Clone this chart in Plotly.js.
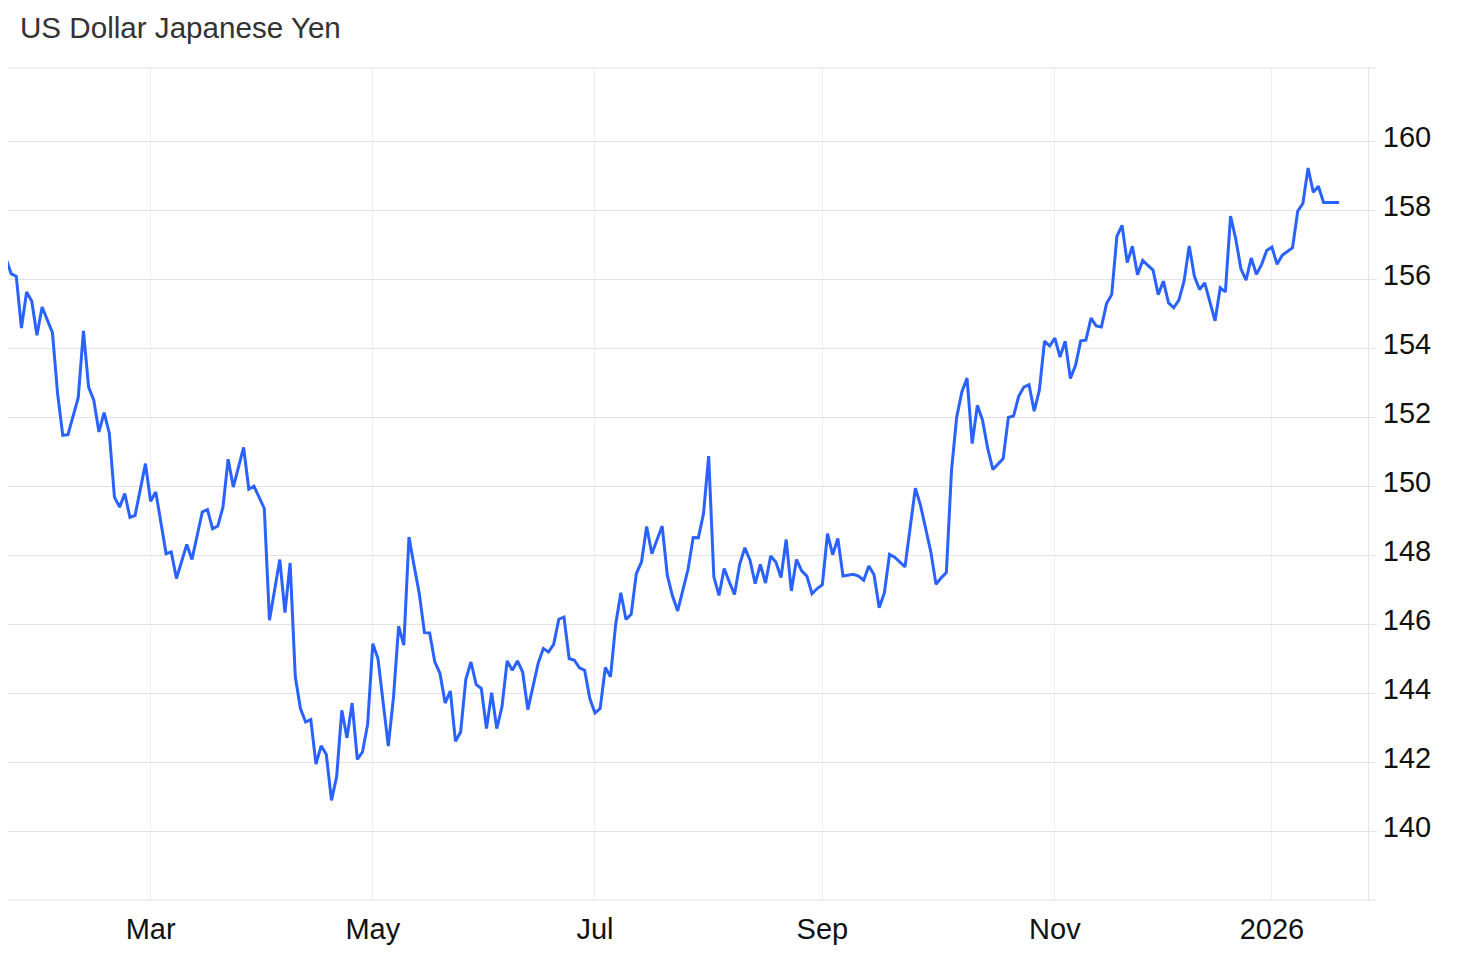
<!DOCTYPE html>
<html>
<head>
<meta charset="utf-8">
<script src="https://cdn.plot.ly/plotly-3.0.1.min.js"></script>
<style>html,body{margin:0;padding:0;background:#fff;}</style>
</head>
<body>
<div id="chart" style="width:1473px;height:975px;"></div>
<script>
// Daily closes (trading days)
const dates = [
'2025-01-22','2025-01-23','2025-01-24','2025-01-27','2025-01-28','2025-01-29','2025-01-30','2025-01-31',
'2025-02-04','2025-02-05','2025-02-06','2025-02-07','2025-02-10','2025-02-11','2025-02-12','2025-02-13',
'2025-02-14','2025-02-17','2025-02-18','2025-02-19','2025-02-20','2025-02-21','2025-02-24','2025-02-25',
'2025-02-26','2025-02-28','2025-03-03','2025-03-04','2025-03-06','2025-03-07','2025-03-10','2025-03-12',
'2025-03-13','2025-03-17','2025-03-18','2025-03-19','2025-03-20','2025-03-21','2025-03-24','2025-03-25',
'2025-03-27','2025-03-28','2025-03-31','2025-04-01','2025-04-02','2025-04-03','2025-04-07','2025-04-08',
'2025-04-09','2025-04-10','2025-04-11','2025-04-14','2025-04-15','2025-04-16','2025-04-17','2025-04-18',
'2025-04-21','2025-04-22','2025-04-23','2025-04-24','2025-04-25','2025-04-28','2025-04-29','2025-04-30',
'2025-05-01','2025-05-02','2025-05-06','2025-05-07','2025-05-08','2025-05-09','2025-05-12','2025-05-13',
'2025-05-14','2025-05-15','2025-05-16','2025-05-19','2025-05-20','2025-05-21','2025-05-22','2025-05-23',
'2025-05-26','2025-05-27','2025-05-28','2025-05-29','2025-05-30','2025-06-02','2025-06-03','2025-06-04',
'2025-06-05','2025-06-06','2025-06-09','2025-06-10','2025-06-11','2025-06-12','2025-06-16','2025-06-17',
'2025-06-18','2025-06-19','2025-06-20','2025-06-23','2025-06-24','2025-06-25','2025-06-26','2025-06-27',
'2025-06-30','2025-07-01','2025-07-02','2025-07-03','2025-07-04','2025-07-07','2025-07-08','2025-07-09',
'2025-07-10','2025-07-11','2025-07-14','2025-07-15','2025-07-16','2025-07-18','2025-07-21','2025-07-22',
'2025-07-23','2025-07-25','2025-07-28','2025-07-29','2025-07-30','2025-07-31','2025-08-01','2025-08-04',
'2025-08-05','2025-08-06','2025-08-07','2025-08-08','2025-08-11','2025-08-12','2025-08-13','2025-08-14',
'2025-08-15','2025-08-18','2025-08-19','2025-08-20','2025-08-21','2025-08-22','2025-08-25','2025-08-26',
'2025-08-27','2025-08-28','2025-08-29','2025-09-01','2025-09-02','2025-09-03','2025-09-04','2025-09-05',
'2025-09-09','2025-09-10','2025-09-11','2025-09-12','2025-09-15','2025-09-16','2025-09-17','2025-09-18',
'2025-09-19','2025-09-23','2025-09-25','2025-09-26','2025-09-29','2025-09-30','2025-10-01','2025-10-02',
'2025-10-03','2025-10-06','2025-10-07','2025-10-08','2025-10-09','2025-10-10','2025-10-13','2025-10-14',
'2025-10-15','2025-10-16','2025-10-20','2025-10-21','2025-10-22','2025-10-23','2025-10-24','2025-10-27',
'2025-10-28','2025-10-29','2025-10-30','2025-10-31','2025-11-03','2025-11-04','2025-11-05','2025-11-06',
'2025-11-07','2025-11-10','2025-11-11','2025-11-12','2025-11-13','2025-11-14','2025-11-17','2025-11-18',
'2025-11-19','2025-11-20','2025-11-21','2025-11-24','2025-11-25','2025-11-26','2025-11-27','2025-11-28',
'2025-12-01','2025-12-02','2025-12-03','2025-12-04','2025-12-05','2025-12-08','2025-12-09','2025-12-10',
'2025-12-11','2025-12-12','2025-12-15','2025-12-16','2025-12-17','2025-12-18','2025-12-19','2025-12-22',
'2025-12-23','2025-12-24','2025-12-26','2025-12-29','2025-12-30','2025-12-31','2026-01-02','2026-01-05',
'2026-01-06','2026-01-07','2026-01-08','2026-01-09','2026-01-12','2026-01-13','2026-01-14','2026-01-15',
'2026-01-16','2026-01-19','2026-01-20','2026-01-21'
];
const usdjpy = [
156.60,156.16,156.08,154.58,155.63,155.36,154.37,155.19,
154.45,152.68,151.47,151.49,152.03,152.57,154.50,152.87,
152.49,151.57,152.13,151.54,149.68,149.39,149.78,149.09,
149.15,150.65,149.56,149.83,148.04,148.09,147.32,148.31,
147.87,149.25,149.32,148.76,148.84,149.39,150.78,149.97,
151.12,149.91,150.00,149.68,149.35,146.11,147.87,146.33,
147.77,144.47,143.55,143.16,143.23,141.94,142.47,142.22,
140.89,141.57,143.50,142.70,143.71,142.08,142.29,143.09,
145.43,145.00,142.46,143.87,145.94,145.39,148.52,147.68,
146.88,145.75,145.74,144.90,144.57,143.71,144.06,142.60,
142.87,144.40,144.90,144.25,144.13,142.97,144.01,142.97,
143.60,144.93,144.66,144.93,144.61,143.52,144.86,145.29,
145.19,145.41,146.14,146.20,145.00,144.95,144.73,144.66,
143.84,143.42,143.55,144.74,144.47,145.99,146.91,146.13,
146.28,147.46,147.80,148.83,148.04,148.84,147.41,146.81,
146.38,147.58,148.51,148.50,149.20,150.87,147.37,146.83,
147.61,147.22,146.86,147.73,148.21,147.85,147.17,147.73,
147.19,147.97,147.80,147.35,148.45,146.96,147.87,147.54,
147.39,146.88,147.03,147.14,148.62,148.01,148.48,147.39,
147.44,147.39,147.27,147.68,147.43,146.47,146.90,148.02,
147.94,147.66,149.94,149.44,148.72,148.09,147.15,147.34,
147.49,150.46,152.00,152.73,153.13,151.23,152.34,151.91,
151.09,150.48,150.80,151.99,152.03,152.60,152.87,152.94,
152.17,152.78,154.20,154.06,154.29,153.74,154.20,153.12,
153.50,154.21,154.23,154.87,154.64,154.61,155.29,155.55,
157.24,157.56,156.48,156.95,156.13,156.54,156.40,156.26,
155.55,155.94,155.31,155.17,155.39,155.94,156.96,156.08,
155.70,155.89,155.34,154.79,155.75,155.63,157.83,157.17,
156.30,155.97,156.61,156.14,156.42,156.83,156.93,156.43,
156.69,156.81,156.91,157.97,158.19,159.22,158.52,158.69,
158.22,158.22,158.23,158.22
];
const monthTickDates = ['2025-03-03','2025-05-01','2025-07-01','2025-09-01','2025-11-03','2026-01-02'];
const monthTickLabels = ['Mar','May','Jul','Sep','Nov','2026'];
const priceTicks = [140,142,144,146,148,150,152,154,156,158,160];
const marketHolidays = ['2025-12-25','2026-01-01'];
const chartTitle = 'US Dollar Japanese Yen';

const FONT = '"Liberation Sans", Arial, Helvetica, sans-serif';
const GRID_H = '#e3e3e3';
const GRID_V = '#ebeef3';
const plotW = 1473 - 8 - 105;
const tickExt = 8 / plotW;

const trace = {
  type: 'scatter', mode: 'lines',
  x: dates, y: usdjpy,
  line: {color: '#2962ff', width: 3},
  hoverinfo: 'x+y'
};

const layout = {
  width: 1473, height: 975,
  margin: {l: 8, r: 105, t: 68, b: 75, pad: 0},
  paper_bgcolor: '#ffffff', plot_bgcolor: '#ffffff',
  showlegend: false,
  font: {family: FONT, color: '#111'},
  title: {
    text: chartTitle,
    font: {family: FONT, size: 29.6, color: '#333333'},
    xref: 'container', yref: 'container',
    x: 20 / 1473, xanchor: 'left',
    y: 1 - 28 / 975, yanchor: 'middle'
  },
  xaxis: {
    type: 'date',
    range: ['2025-01-22 09:36', '2026-01-28 14:24'],
    rangebreaks: [{bounds: ['sat', 'mon']}, {values: marketHolidays}],
    tickmode: 'array', tickvals: monthTickDates, ticktext: monthTickLabels,
    showgrid: true, gridcolor: GRID_V, gridwidth: 1,
    ticks: '', showline: false, zeroline: false,
    ticklabelstandoff: 9,
    tickfont: {family: FONT, size: 29, color: '#111'},
    fixedrange: true
  },
  yaxis: {
    side: 'right',
    range: [138, 162.12],
    tickmode: 'array', tickvals: priceTicks,
    showgrid: true, gridcolor: GRID_H, gridwidth: 1,
    ticks: 'outside', ticklen: 8, tickcolor: GRID_H, tickwidth: 1,
    showline: true, linecolor: GRID_H, linewidth: 1,
    zeroline: false,
    ticklabelshift: -4,
    tickfont: {family: FONT, size: 29, color: '#111'},
    fixedrange: true
  },
  shapes: [
    {type: 'line', xref: 'paper', yref: 'paper', x0: 0, x1: 1 + tickExt, y0: 1, y1: 1,
     line: {color: GRID_H, width: 1}, layer: 'below'},
    {type: 'line', xref: 'paper', yref: 'paper', x0: 0, x1: 1 + tickExt, y0: 0, y1: 0,
     line: {color: GRID_H, width: 1}, layer: 'below'}
  ]
};

Plotly.newPlot('chart', [trace], layout, {displayModeBar: false, staticPlot: true});
</script>
</body>
</html>
